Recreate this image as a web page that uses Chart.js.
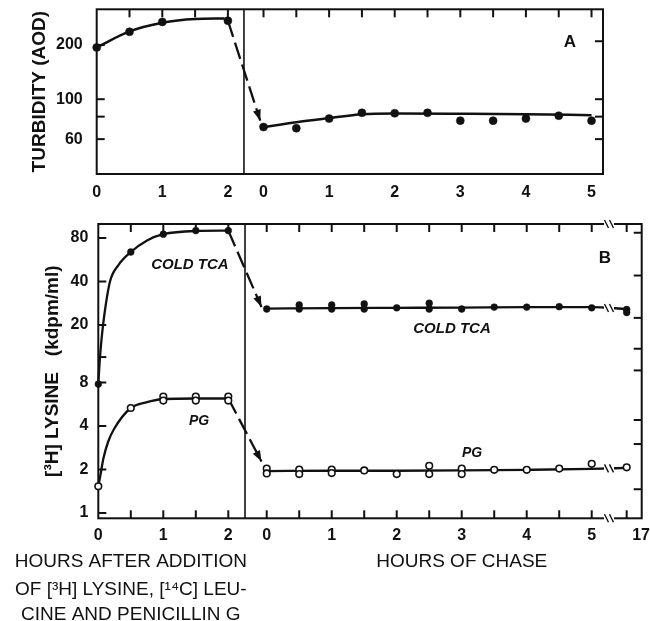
<!DOCTYPE html>
<html>
<head>
<meta charset="utf-8">
<style>
  html, body { margin: 0; padding: 0; background: #fff; }
  #wrap { position: relative; width: 650px; height: 621px; }
  #wrap canvas { position: absolute; left: 0; top: 0; }
</style>
<script src="https://cdn.jsdelivr.net/npm/chart.js@4.4.1/dist/chart.umd.min.js"></script>
</head>
<body>
<div id="wrap">
  <canvas id="panel-a" width="650" height="621"></canvas>
  <canvas id="panel-b" width="650" height="621"></canvas>
</div>
<script>
const INK = '#111';
const FONT = '"Liberation Sans", Arial, Helvetica, sans-serif';
const TICK_LEN = 8;

// ---------- Panel A: turbidity (AOD) ----------
const aPulseHours = [0, 0.5, 1, 2];
const aPulseValues = [194, 237, 269, 273];
const aChaseHours = [0, 0.5, 1, 1.5, 2, 2.5, 3, 3.5, 4, 4.5, 5];
const aChaseValues = [70, 69, 78, 84, 83.5, 84, 76, 76, 78, 81, 76];
// hand drawn fit curves
const aPulseFitHours = [0, 0.5, 1, 1.5, 1.95];
const aPulseFit = [194, 238, 266, 279, 281];
const aChaseFitHours = [0, 0.5, 1, 1.5, 2, 3, 4, 5];
const aChaseFit = [70, 74.5, 78.5, 82.5, 83.3, 83, 82.5, 81.5];
// dashed arrow: end of pulse -> start of chase
const aDropHours = [2, -0.05];
const aDropValues = [273, 76];
const aYTicks = [60, 80, 100, 200];
const aYLabels = [60, 100, 200];
const aYRightTicks = [60, 80, 100, 210];

// ---------- Panel B: [3H]lysine (kdpm/ml) ----------
const bTcaPulseHours = [0, 0.5, 1, 1.5, 2];
const bTcaPulse = [7.8, 64, 85, 90, 90];
const bTcaChaseHours = [0, 0.5, 0.5, 1, 1, 1.5, 1.5, 2, 2.5, 2.5, 3, 3.5, 4, 4.5, 5, 17, 17];
const bTcaChase = [25.8, 27.5, 25.8, 27.5, 25.8, 28, 25.8, 26.3, 28.3, 25.8, 25.8, 26.6, 26.6, 26.8, 26.3, 25.6, 24.4];
const bPgPulseHours = [0, 0.5, 1, 1, 1.5, 1.5, 2, 2];
const bPgPulse = [1.53, 5.33, 6.4, 6.0, 6.4, 6.0, 6.4, 6.0];
const bPgChaseHours = [0, 0, 0.5, 0.5, 1, 1, 1.5, 2, 2.5, 2.5, 3, 3, 3.5, 4, 4.5, 5, 17];
const bPgChase = [2.03, 1.88, 2.0, 1.86, 2.0, 1.89, 1.97, 1.86, 2.12, 1.86, 2.03, 1.86, 1.99, 1.99, 2.03, 2.19, 2.07];

const bTcaPulseFitHours = [0, 0.02, 0.05, 0.09, 0.18, 0.31, 0.5, 0.75, 1, 1.5, 2];
const bTcaPulseFit = [7.8, 11, 16, 23, 40, 52, 64, 77, 85, 89.5, 90];
const bTcaChaseFitHours = [0, 1, 2, 3, 4, 5, 17];
const bTcaChaseFit = [26, 26.2, 26.3, 26.4, 26.6, 26.6, 25.8];
const bPgPulseFitHours = [0, 0.03, 0.08, 0.15, 0.24, 0.5, 0.75, 1, 1.5, 2];
const bPgPulseFit = [1.53, 1.8, 2.4, 3.1, 3.8, 5.33, 5.85, 6.15, 6.2, 6.2];
const bPgChaseFitHours = [0, 1, 2, 3, 4, 5, 17];
const bPgChaseFit = [1.95, 1.96, 1.96, 1.97, 1.99, 2.02, 2.05];

const bTcaDropHours = [2, -0.08];
const bTcaDropValues = [90, 26.6];
const bPgDropHours = [2, -0.08];
const bPgDropValues = [6.2, 2.27];

const bYTicks = [1, 2, 4, 8, 12, 20, 40, 80];
const bYLabels = [1, 2, 4, 8, 20, 40, 80];
const bYRightTicks = [1.46, 3.0, 4.4, 9.7, 13.7, 22.4, 44, 87];

// ---------- shared hour axes ----------
const pulseLabelHours = [0, 1, 2];
const chaseLabelHours = [0, 1, 2, 3, 4, 5];
const pulseTickHours = [0.5, 1, 1.5, 2];
const chaseTickHours = [0, 0.5, 1, 1.5, 2, 2.5, 3, 3.5, 4, 4.5, 5];

// layout of the two panels (pixels / hours on the joined axis)
const PANEL_A = { left: 96.7, right: 603, top: 9.3, bottom: 174, xMax: 7.718, chase0: 2.543, divider: 2.245, yMin: 38.4, yMax: 316 };
const PANEL_B = { left: 98.3, right: 641.7, top: 224, bottom: 518.3, xMax: 8.36, chase0: 2.591, divider: 2.257, yMin: 0.919, yMax: 100, pos17: 5.538, label17: 5.76, breakAt: 5.266 };

function hourX(panel, h, phase) {
  if (phase === 'pulse') return h;
  return panel.chase0 + (h >= 17 ? panel.pos17 : h);
}
function pts(panel, phase, hours, values) {
  return hours.map((h, i) => ({ x: hourX(panel, h, phase), y: values[i] }));
}
function dropPts(panel, hours, values) {
  return [{ x: hourX(panel, hours[0], 'pulse'), y: values[0] }, { x: hourX(panel, hours[1], 'chase'), y: values[1] }];
}

function dots(data, open, r) {
  return {
    type: 'scatter', data, showLine: false, clip: false,
    pointRadius: r, pointHoverRadius: r,
    pointBackgroundColor: open ? '#fff' : INK,
    pointBorderColor: INK, pointBorderWidth: open ? 1.6 : 0.5
  };
}
function curve(data, width) {
  return { type: 'line', data, clip: false, borderColor: INK, borderWidth: width, pointRadius: 0, cubicInterpolationMode: 'monotone', fill: false };
}
function dashed(data) {
  return { type: 'line', data, clip: false, borderColor: INK, borderWidth: 2.3, borderDash: [17, 6], pointRadius: 0, tension: 0, fill: false, arrow: true };
}

function line(ctx, x1, y1, x2, y2) {
  ctx.beginPath(); ctx.moveTo(x1, y1); ctx.lineTo(x2, y2); ctx.stroke();
}

function makeInk(spec) {
  return {
    id: 'ink',
    beforeDatasetsDraw(chart) {
      const { ctx, chartArea: a, scales: { x, y } } = chart;
      ctx.save();
      ctx.strokeStyle = INK;
      ctx.lineWidth = 2;
      ctx.strokeRect(a.left, a.top, a.right - a.left, a.bottom - a.top);
      ctx.lineWidth = 1.6;
      const dx = x.getPixelForValue(spec.divider);
      line(ctx, dx, a.top, dx, a.bottom);
      ctx.lineWidth = 2;
      spec.topTicks.forEach(v => { const px = x.getPixelForValue(v); line(ctx, px, a.top, px, a.top + TICK_LEN); });
      spec.bottomTicks.forEach(v => { const px = x.getPixelForValue(v); line(ctx, px, a.bottom, px, a.bottom - TICK_LEN); });
      spec.leftTicks.forEach(v => { const py = y.getPixelForValue(v); line(ctx, a.left, py, a.left + TICK_LEN, py); });
      spec.rightTicks.forEach(v => { const py = y.getPixelForValue(v); line(ctx, a.right, py, a.right - TICK_LEN, py); });
      ctx.restore();
    },
    afterDatasetsDraw(chart) {
      const { ctx, chartArea: a, scales: { x, y } } = chart;
      ctx.save();
      ctx.fillStyle = INK;
      ctx.strokeStyle = INK;
      // arrow heads on the dashed transfers
      chart.data.datasets.forEach((ds, i) => {
        if (!ds.arrow) return;
        const els = chart.getDatasetMeta(i).data;
        const p0 = els[els.length - 2], p1 = els[els.length - 1];
        const ang = Math.atan2(p1.y - p0.y, p1.x - p0.x);
        ctx.save();
        ctx.translate(p1.x, p1.y);
        ctx.rotate(ang);
        ctx.beginPath(); ctx.moveTo(0, 0); ctx.lineTo(-11, -4); ctx.lineTo(-11, 4); ctx.closePath(); ctx.fill();
        ctx.restore();
      });
      // broken axis marks
      if (spec.breakAt != null) {
        const bx = x.getPixelForValue(spec.breakAt);
        const ys = [a.top, a.bottom];
        spec.breakLines.forEach(i => {
          const els = chart.getDatasetMeta(i).data;
          for (let k = 0; k < els.length - 1; k++) {
            if (els[k].x <= bx && els[k + 1].x >= bx) {
              const f = (bx - els[k].x) / (els[k + 1].x - els[k].x);
              ys.push(els[k].y + f * (els[k + 1].y - els[k].y));
            }
          }
        });
        ys.forEach(yy => {
          ctx.fillStyle = '#fff';
          ctx.fillRect(bx - 5, yy - 3, 10, 6);
          ctx.lineWidth = 1.4;
          [-2.5, 2.5].forEach(o => line(ctx, bx + o - 2, yy - 4, bx + o + 2, yy + 4));
        });
      }
      // in-plot labels
      ctx.fillStyle = INK;
      ctx.textAlign = 'center';
      ctx.textBaseline = 'middle';
      spec.labels.forEach(l => {
        ctx.font = l.font;
        ctx.fillText(l.text, x.getPixelForValue(l.x), y.getPixelForValue(l.y));
      });
      (spec.footer || []).forEach(f => {
        ctx.font = f.font;
        ctx.fillText(f.text, x.getPixelForValue(f.x), a.bottom + f.dy);
      });
      ctx.restore();
    }
  };
}

function makePanel(canvasId, panel, datasets, ax, ink) {
  const labelFont = { family: FONT, size: 16, weight: 'bold' };
  return new Chart(document.getElementById(canvasId), {
    data: { datasets },
    plugins: [makeInk(ink)],
    options: {
      responsive: false,
      maintainAspectRatio: false,
      devicePixelRatio: 1,
      animation: false,
      events: [],
      layout: { padding: { left: 0, top: panel.top, right: 650 - panel.right, bottom: 621 - panel.bottom - 30 } },
      plugins: { legend: { display: false }, tooltip: { enabled: false } },
      scales: {
        x: {
          type: 'linear', min: 0, max: panel.xMax,
          grid: { display: false, drawTicks: false },
          border: { display: false },
          afterBuildTicks: s => { s.ticks = ax.xLabelPos.map(v => ({ value: v })); },
          afterFit: s => { s.height = 30; s.paddingLeft = 0; s.paddingRight = 0; },
          ticks: {
            autoSkip: false, maxRotation: 0, minRotation: 0, padding: ax.xPad,
            color: INK, font: labelFont,
            callback: (v, i) => ax.xLabelText[i]
          }
        },
        y: {
          type: 'logarithmic', min: panel.yMin, max: panel.yMax,
          grid: { display: false, drawTicks: false },
          border: { display: false },
          afterBuildTicks: s => { s.ticks = ax.yTicks.map(v => ({ value: v })); },
          afterFit: s => { s.width = panel.left; s.paddingTop = 0; s.paddingBottom = 0; },
          ticks: {
            autoSkip: false, padding: ax.yPad, color: INK, font: labelFont,
            callback: v => ax.yLabels.includes(v) ? String(v) : ''
          },
          title: {
            display: true, text: ax.title, color: INK,
            font: { family: FONT, size: 19, weight: 'bold' },
            padding: { top: ax.titlePad, bottom: 0 }
          }
        }
      }
    }
  });
}

Chart.defaults.font.family = FONT;
Chart.defaults.color = INK;

// ---------- build panel A ----------
const A = PANEL_A;
makePanel('panel-a', A, [
  dots(pts(A, 'pulse', aPulseHours, aPulseValues), false, 4),
  dots(pts(A, 'chase', aChaseHours, aChaseValues), false, 4),
  curve(pts(A, 'pulse', aPulseFitHours, aPulseFit), 2.5),
  curve(pts(A, 'chase', aChaseFitHours, aChaseFit), 2.5),
  dashed(dropPts(A, aDropHours, aDropValues))
], {
  xLabelPos: pulseLabelHours.map(h => hourX(A, h, 'pulse')).concat(chaseLabelHours.map(h => hourX(A, h, 'chase'))),
  xLabelText: pulseLabelHours.concat(chaseLabelHours).map(String),
  xPad: 9,
  yTicks: aYTicks, yLabels: aYLabels, yPad: 14,
  title: 'TURBIDITY (AOD)', titlePad: 28.6
}, {
  divider: A.divider,
  topTicks: pulseTickHours.map(h => hourX(A, h, 'pulse')).concat(chaseTickHours.map(h => hourX(A, h, 'chase'))),
  bottomTicks: [],
  leftTicks: aYTicks,
  rightTicks: aYRightTicks,
  breakAt: null, breakLines: [],
  labels: [{ text: 'A', x: 7.215, y: 208, font: 'bold 17px ' + FONT }]
});

// ---------- build panel B ----------
const B = PANEL_B;
const bTicks = pulseTickHours.map(h => hourX(B, h, 'pulse')).concat(chaseTickHours.concat([17]).map(h => hourX(B, h, 'chase')));
makePanel('panel-b', B, [
  dots(pts(B, 'pulse', bTcaPulseHours, bTcaPulse), false, 3.4),
  dots(pts(B, 'chase', bTcaChaseHours, bTcaChase), false, 3.4),
  dots(pts(B, 'pulse', bPgPulseHours, bPgPulse), true, 3.3),
  dots(pts(B, 'chase', bPgChaseHours, bPgChase), true, 3.3),
  curve(pts(B, 'pulse', bTcaPulseFitHours, bTcaPulseFit), 2.3),
  curve(pts(B, 'chase', bTcaChaseFitHours, bTcaChaseFit), 2.3),
  curve(pts(B, 'pulse', bPgPulseFitHours, bPgPulseFit), 2.3),
  curve(pts(B, 'chase', bPgChaseFitHours, bPgChaseFit), 2.3),
  dashed(dropPts(B, bTcaDropHours, bTcaDropValues)),
  dashed(dropPts(B, bPgDropHours, bPgDropValues))
], {
  xLabelPos: pulseLabelHours.map(h => hourX(B, h, 'pulse'))
    .concat(chaseLabelHours.map(h => hourX(B, h, 'chase')))
    .concat([B.chase0 + B.label17]),
  xLabelText: pulseLabelHours.concat(chaseLabelHours).concat([17]).map(String),
  xPad: 8,
  yTicks: bYTicks, yLabels: bYLabels, yPad: 10,
  title: '[³H] LYSINE   (kdpm/ml)', titlePad: 41.6
}, {
  divider: B.divider,
  topTicks: bTicks,
  bottomTicks: bTicks,
  leftTicks: bYTicks,
  rightTicks: bYRightTicks,
  breakAt: B.chase0 + B.breakAt, breakLines: [5, 7],
  labels: [
    { text: 'B', x: 7.795, y: 58.2, font: 'bold 17px ' + FONT },
    { text: 'COLD TCA', x: 1.41, y: 52, font: 'italic bold 15px ' + FONT },
    { text: 'COLD TCA', x: hourX(B, 2.85, 'chase'), y: 18.8, font: 'italic bold 15px ' + FONT },
    { text: 'PG', x: 1.55, y: 4.33, font: 'italic bold 14px ' + FONT },
    { text: 'PG', x: hourX(B, 3.16, 'chase'), y: 2.6, font: 'italic bold 14px ' + FONT }
  ],
  footer: [
    { text: 'HOURS AFTER ADDITION', x: 0.5, dy: 43.7, font: '19px ' + FONT },
    { text: 'OF [³H] LYSINE, [¹⁴C] LEU-', x: 0.5, dy: 71.7, font: '19px ' + FONT },
    { text: 'CINE AND PENICILLIN G', x: 0.5, dy: 96.7, font: '19px ' + FONT },
    { text: 'HOURS OF CHASE', x: hourX(B, 3, 'chase'), dy: 43.7, font: '19px ' + FONT }
  ]
});
</script>
</body>
</html>
